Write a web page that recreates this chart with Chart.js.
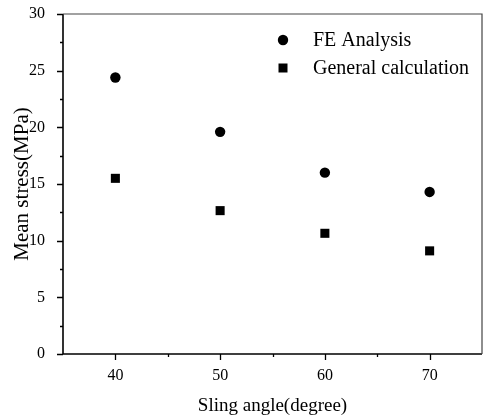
<!DOCTYPE html>
<html>
<head>
<meta charset="utf-8">
<script src="https://cdn.jsdelivr.net/npm/chart.js@4"></script>
<style>
  html, body { margin: 0; padding: 0; background: #fff; }
  #wrap { width: 484px; height: 417px; }
</style>
</head>
<body>
<div id="wrap"><canvas id="chart"></canvas></div>
<script>
const slingAngles = [40, 50, 60, 70];
const feAnalysis = [24.4, 19.6, 16.0, 14.3];
const generalCalc = [15.5, 12.65, 10.65, 9.1];
const xMajorTicks = [40, 50, 60, 70];
const xMinorTicks = [45, 55, 65];
const yMajorTicks = [0, 5, 10, 15, 20, 25, 30];
const yMinorTicks = [2.5, 7.5, 12.5, 17.5, 22.5, 27.5];

const serif = "'Liberation Serif', 'DejaVu Serif', serif";

const toPoints = (xs, ys) => xs.map((x, i) => ({ x: x, y: ys[i] }));

// frame, ticks and legend drawn by hand (Origin style)
const framePlugin = {
    id: "frame",
    afterDraw(chart) {
        const { ctx, chartArea: a, scales } = chart;
        const xs = scales.x, ys = scales.y;
        ctx.save();
        ctx.strokeStyle = "#000";
        ctx.lineWidth = 1.6;
        ctx.beginPath();
        ctx.moveTo(a.left, a.top);
        ctx.lineTo(a.left, a.bottom);
        ctx.lineTo(a.right, a.bottom);
        ctx.stroke();
        ctx.strokeStyle = "#444";
        ctx.lineWidth = 1.2;
        ctx.beginPath();
        ctx.moveTo(a.left, a.top);
        ctx.lineTo(a.right, a.top);
        ctx.lineTo(a.right, a.bottom);
        ctx.stroke();

        ctx.strokeStyle = "#000";
        ctx.lineWidth = 1.3;
        ctx.beginPath();
        xMajorTicks.forEach((v) => {
            const px = Math.round(xs.getPixelForValue(v)) + 0.5;
            ctx.moveTo(px, a.bottom);
            ctx.lineTo(px, a.bottom + 6);
        });
        xMinorTicks.forEach((v) => {
            const px = Math.round(xs.getPixelForValue(v)) + 0.5;
            ctx.moveTo(px, a.bottom);
            ctx.lineTo(px, a.bottom + 3);
        });
        yMajorTicks.forEach((v) => {
            const py = Math.round(ys.getPixelForValue(v)) + 0.5;
            ctx.moveTo(a.left, py);
            ctx.lineTo(a.left - 6, py);
        });
        yMinorTicks.forEach((v) => {
            const py = Math.round(ys.getPixelForValue(v)) + 0.5;
            ctx.moveTo(a.left, py);
            ctx.lineTo(a.left - 3, py);
        });
        ctx.stroke();

        // legend
        ctx.font = "20px " + serif;
        ctx.textBaseline = "middle";
        ctx.fillStyle = "#000";
        chart.data.datasets.forEach((ds, i) => {
            const y = 40 + i * 28;
            ctx.beginPath();
            if (ds.pointStyle === "circle") {
                ctx.arc(283, y, 5.2, 0, Math.PI * 2);
            } else {
                ctx.rect(278.5, y - 4.5, 9, 9);
            }
            ctx.fill();
            ctx.fillText(ds.label, 313, y + 1);
        });
        ctx.restore();
    },
};

new Chart(document.getElementById("chart"), {
    type: "scatter",
    data: {
        datasets: [
            {
                label: "FE Analysis",
                data: toPoints(slingAngles, feAnalysis),
                pointStyle: "circle",
                pointRadius: 5.2,
                backgroundColor: "#000",
                borderColor: "#000",
                borderWidth: 0,
            },
            {
                label: "General calculation",
                data: toPoints(slingAngles, generalCalc),
                pointStyle: "rect",
                pointRadius: 6.4,
                backgroundColor: "#000",
                borderColor: "#000",
                borderWidth: 0,
            },
        ],
    },
    options: {
        responsive: true,
        maintainAspectRatio: false,
        animation: false,
        layout: { autoPadding: false, padding: { top: 14, right: 2, left: 0, bottom: 0 } },
        plugins: {
            legend: { display: false },
            tooltip: { enabled: false },
        },
        scales: {
            x: {
                type: "linear",
                min: 35,
                max: 75,
                afterBuildTicks: (s) => { s.ticks = xMajorTicks.map((v) => ({ value: v })); },
                afterFit: (s) => {
                    s.height = 63;
                    s.paddingLeft = 0;
                    s.paddingRight = 0;
                },
                grid: { display: false },
                border: { display: false },
                ticks: {
                    color: "#000",
                    padding: 4,
                    font: { family: serif, size: 16 },
                },
                title: {
                    display: true,
                    text: "Sling angle(degree)",
                    color: "#000",
                    font: { family: serif, size: 19 },
                    padding: { top: 4, bottom: 0 },
                },
            },
            y: {
                min: 0,
                max: 30,
                afterBuildTicks: (s) => { s.ticks = yMajorTicks.map((v) => ({ value: v })); },
                afterFit: (s) => {
                    s.width = 63;
                    s.paddingTop = 0;
                    s.paddingBottom = 0;
                },
                grid: { display: false },
                border: { display: false },
                ticks: {
                    color: "#000",
                    padding: 10,
                    font: { family: serif, size: 16 },
                },
                title: {
                    display: true,
                    text: "Mean stress(MPa)",
                    color: "#000",
                    font: { family: serif, size: 21 },
                    padding: { top: 10, bottom: 4 },
                },
            },
        },
    },
    plugins: [framePlugin],
});
</script>
</body>
</html>
